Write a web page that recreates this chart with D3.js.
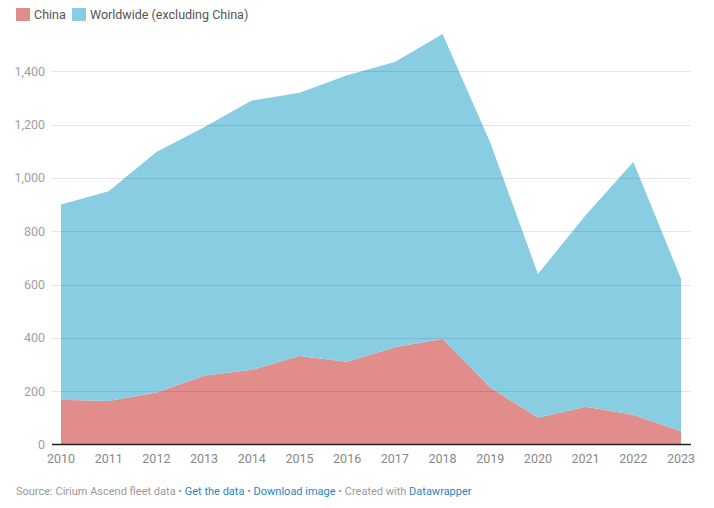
<!DOCTYPE html>
<html><head><meta charset="utf-8">
<script src="https://cdn.jsdelivr.net/npm/d3@7"></script>
<style>
body{margin:0;background:#fff;font-family:Roboto,"Noto Sans",sans-serif;}
</style></head><body>
<svg id="c" width="714" height="508"></svg>
<script>
const years = [2010,2011,2012,2013,2014,2015,2016,2017,2018,2019,2020,2021,2022,2023];
const china = [168,163,195,258,280,332,310,365,397,214,100,142,112,50];
const worldwide = [732,787,902,932,1010,988,1075,1070,1143,919,540,718,948,572];
const seriesNames = ["China","Worldwide (excluding China)"];
const seriesColors = ["#e18d8b","#89cde3"];
const yTicks = [0,200,400,600,800,1000,1200,1400];

const svg = d3.select("#c");
const x = d3.scaleLinear().domain([2010,2023]).range([61,681]);
const y = d3.scaleLinear().domain([0,1400]).range([444.5,71.3]);

const rows = years.map((yr,i)=>({year:yr, china:china[i], world:worldwide[i]}));
const stack = d3.stack().keys(["china","world"])(rows);

const area = d3.area().x(d=>x(d.data.year)).y0(d=>y(d[0])).y1(d=>y(d[1]));
svg.append("g").selectAll("path").data(stack).join("path")
  .attr("d",area).attr("fill",(d,i)=>seriesColors[i]);

// gridlines
const grid = svg.append("g");
grid.selectAll("line").data(yTicks.filter(t=>t>0)).join("line")
  .attr("x1",52).attr("x2",691)
  .attr("y1",d=>Math.round(y(d))+0.5).attr("y2",d=>Math.round(y(d))+0.5)
  .attr("stroke","#000").attr("stroke-opacity",0.1).attr("stroke-width",1);

// y labels
svg.append("g").selectAll("text").data(yTicks).join("text")
  .attr("x",45).attr("y",d=>y(d)+4.5).attr("text-anchor","end")
  .attr("font-size",12.5).attr("fill","#a0a0a0")
  .text(d=>d3.format(",")(d));

// baseline
svg.append("line").attr("x1",52).attr("x2",691).attr("y1",444.5).attr("y2",444.5)
  .attr("stroke","#222").attr("stroke-width",1.5);

// x labels
svg.append("g").selectAll("text").data(years).join("text")
  .attr("x",d=>x(d)).attr("y",463).attr("text-anchor","middle")
  .attr("font-size",12.5).attr("fill","#888")
  .text(d=>d);

// legend
const lg = svg.append("g");
const legX = [16,72];
seriesNames.forEach((n,i)=>{
  lg.append("rect").attr("x",legX[i]).attr("y",8).attr("width",14).attr("height",13).attr("fill",seriesColors[i]);
  lg.append("text").attr("x",legX[i]+18).attr("y",19).attr("font-size",12.5).attr("fill","#555").text(n);
});

// footer
const ft = svg.append("text").attr("x",16).attr("y",495).attr("font-size",11).attr("fill","#999");
const parts = [["Source: Cirium Ascend fleet data • ","#999"],["Get the data","#1f85c8"],[" • ","#999"],["Download image","#1f85c8"],[" • Created with ","#999"],["Datawrapper","#1f85c8"]];
parts.forEach(p=>ft.append("tspan").attr("fill",p[1]).text(p[0]));
</script>
</body></html>
